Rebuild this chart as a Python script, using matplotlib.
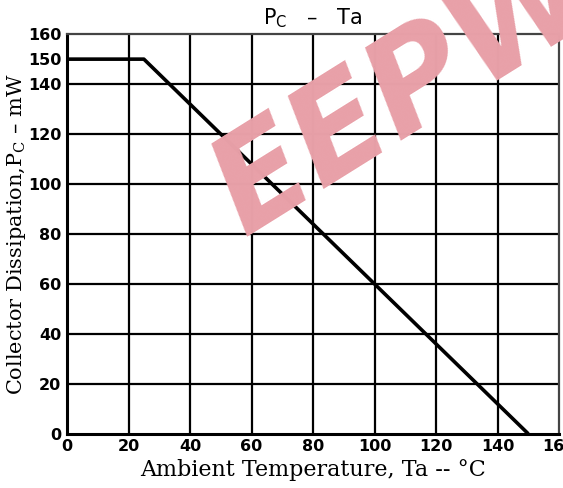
import numpy as np
import matplotlib.pyplot as plt

# derating curve
ta = [0, 25, 150]
pc = [150, 150, 0]

x_ticks = [0, 20, 40, 60, 80, 100, 120, 140, 160]
y_ticks = [0, 20, 40, 60, 80, 100, 120, 140, 150, 160]

fig = plt.figure(figsize=(5.63, 4.88), dpi=100)
ax = fig.add_axes([0.119, 0.111, 0.874, 0.819])

# watermark
fig.text(0.72, 0.81, 'EEPW', color='#e8a0a8', fontsize=96, fontweight='bold',
         fontstyle='italic', rotation=32, ha='center', va='center', zorder=0,
         family='DejaVu Sans')

ax.set_facecolor('none')
ax.set_xlim(0, 160)
ax.set_ylim(0, 160)

# grid
for xv in x_ticks[1:-1]:
    ax.axvline(xv, color='black', lw=1.6, zorder=1)
for yv in [20, 40, 60, 80, 100, 120, 140]:
    ax.axhline(yv, color='black', lw=1.6, zorder=1)

ax.plot(ta, pc, color='black', lw=2.6, zorder=3, solid_capstyle='butt')

for s in ['left', 'bottom']:
    ax.spines[s].set_linewidth(2.2)
for s in ['top', 'right']:
    ax.spines[s].set_linewidth(1.6)
    ax.spines[s].set_color('#444444')

ax.set_xticks(x_ticks)
ax.set_xticklabels([str(v) for v in x_ticks])
ax.set_yticks(y_ticks)
ax.set_yticklabels([str(v) for v in y_ticks])
ax.tick_params(length=0, pad=4)
for lbl in ax.get_xticklabels() + ax.get_yticklabels():
    lbl.set_fontsize(11.5)
    lbl.set_fontweight('bold')
    lbl.set_family('DejaVu Sans')

ax.set_title(r'P$_\mathregular{C}$   –   Ta', fontsize=15, family='DejaVu Sans', pad=7)
ax.set_xlabel('Ambient Temperature, Ta -- °C', fontsize=16,
              family='DejaVu Serif', labelpad=3)
ax.set_ylabel(r'Collector Dissipation,P$_\mathregular{C}$ – mW', fontsize=15,
              family='DejaVu Serif', va='center')
ax.yaxis.set_label_coords(-0.103, 0.5)

fig.savefig('out.png', dpi=100)
